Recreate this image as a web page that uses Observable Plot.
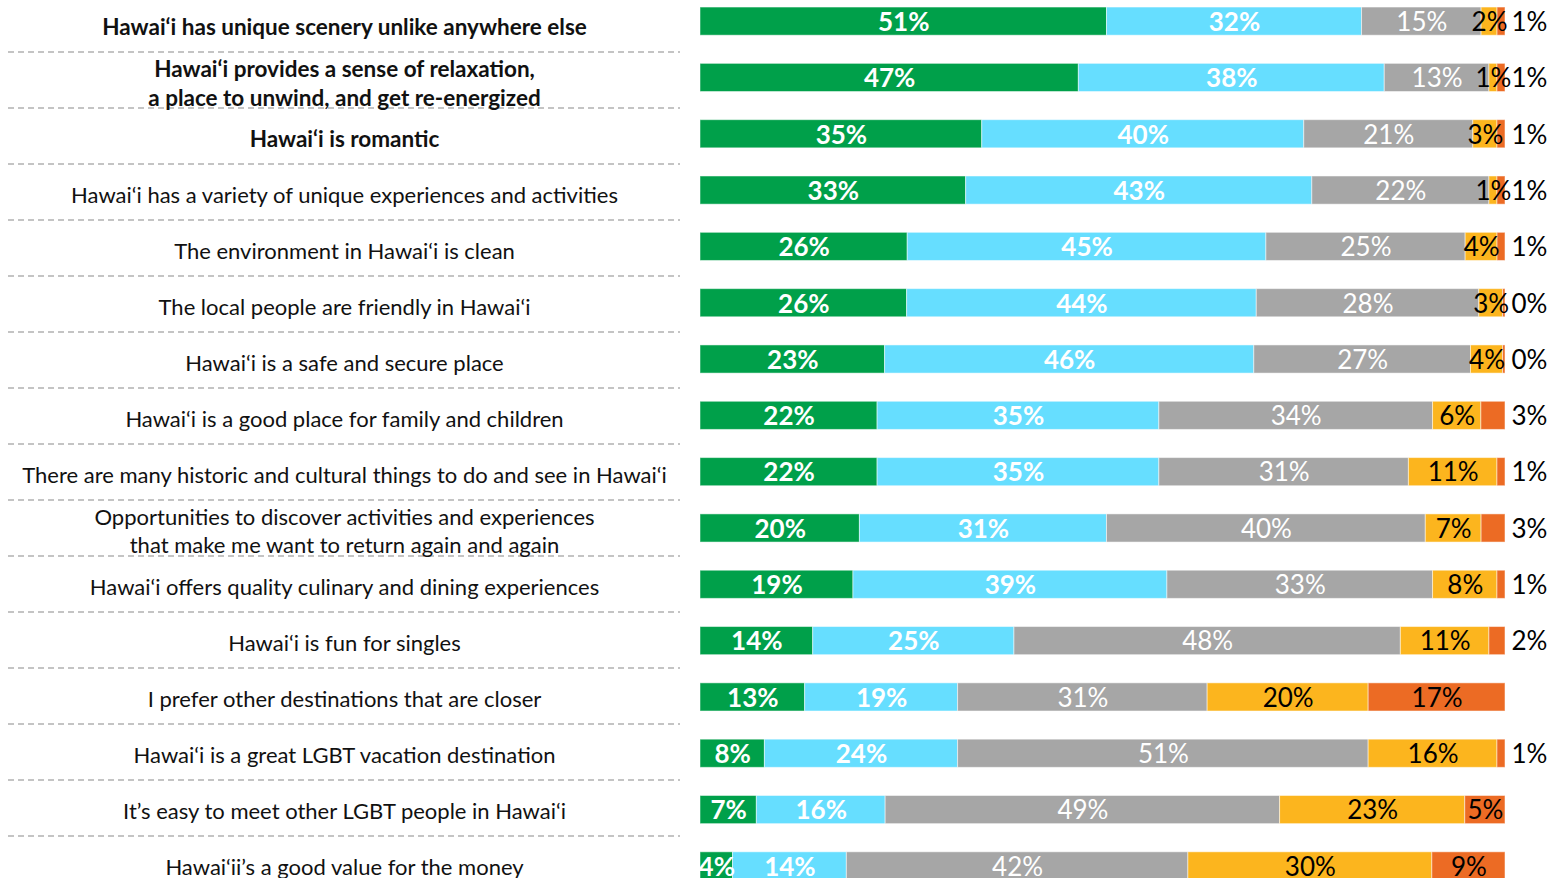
<!DOCTYPE html>
<html>
<head>
<meta charset="utf-8">
<script src="https://cdn.jsdelivr.net/npm/d3@7"></script>
<script src="https://cdn.jsdelivr.net/npm/@observablehq/plot@0.6"></script>
<style>
  html, body { margin: 0; padding: 0; background: #fff; overflow: hidden; }
  #wrap { position: relative; width: 1561px; height: 895px; }
</style>
</head>
<body>
<div id="wrap"></div>
<script>
const items = [
  "Hawai‘i has unique scenery unlike anywhere else",
  "Hawai‘i provides a sense of relaxation,\na place to unwind, and get re-energized",
  "Hawai‘i is romantic",
  "Hawai‘i has a variety of unique experiences and activities",
  "The environment in Hawai‘i is clean",
  "The local people are friendly in Hawai‘i",
  "Hawai‘i is a safe and secure place",
  "Hawai‘i is a good place for family and children",
  "There are many historic and cultural things to do and see in Hawai‘i",
  "Opportunities to discover activities and experiences\nthat make me want to return again and again",
  "Hawai‘i offers quality culinary and dining experiences",
  "Hawai‘i is fun for singles",
  "I prefer other destinations that are closer",
  "Hawai‘i is a great LGBT vacation destination",
  "It’s easy to meet other LGBT people in Hawai‘i",
  "Hawai‘ii’s a good value for the money"
];
const boldItems = items.slice(0, 3);

const series = ["s1", "s2", "s3", "s4", "s5"];
const seriesColors = ["#00A04A", "#66DEFF", "#A6A6A6", "#FCB51E", "#EC6B24"];

const s1 = [51, 47, 35, 33, 26, 26, 23, 22, 22, 20, 19, 14, 13, 8, 7, 4];
const s2 = [32, 38, 40, 43, 45, 44, 46, 35, 35, 31, 39, 25, 19, 24, 16, 14];
const s3 = [15, 13, 21, 22, 25, 28, 27, 34, 31, 40, 33, 48, 31, 51, 49, 42];
const s4 = [2, 1, 3, 1, 4, 3, 4, 6, 11, 7, 8, 11, 20, 16, 23, 30];
const s5 = [1, 1, 1, 1, 1, 0.3, 0.3, 3, 1, 3, 1, 2, 17, 1, 5, 9];
const seriesValues = [s1, s2, s3, s4, s5];

const data = [];
items.forEach((item, i) => {
  series.forEach((s, j) => {
    data.push({item, series: s, value: seriesValues[j][i], label: Math.round(seriesValues[j][i]) + "%"});
  });
});

const font = "Lato, 'Open Sans', sans-serif";

// Left: labels + dashed separators
const left = Plot.plot({
  width: 700, height: 895,
  marginLeft: 8, marginRight: 20, marginTop: 0, marginBottom: 3,
  x: {axis: null, domain: [0, 1]},
  y: {type: "point", domain: items, padding: 0.464, round: false, axis: null},
  style: {fontFamily: font},
  marks: [
    Plot.ruleY(items.slice(0, -1), {y: d => d, dy: 25.5, stroke: "#C4C4C4", strokeWidth: 2, strokeDasharray: "6,4"}),
    Plot.text(items, {y: d => d, text: d => boldItems.includes(d) ? null : d, frameAnchor: "middle", dy: -0.5,
      fontSize: 22, lineHeight: 1.3, fill: "#111", fontWeight: "normal"}),
    Plot.text(items, {y: d => d, text: d => boldItems.includes(d) ? d : null, frameAnchor: "middle", dy: -0.5,
      fontSize: 22.5, lineHeight: 1.28, fill: "#111", fontWeight: "bold"})
  ]
});

const stackOpts = (extra) => ({x: "value", y: "item", z: "series", offset: "normalize", ...extra});
const isBold = s => s === "s1" || s === "s2";
const insideText = d => (d.series !== "s5" || d.value >= 5);

const right = Plot.plot({
  width: 861, height: 890,
  marginLeft: 0, marginRight: 56, marginTop: 0, marginBottom: 3,
  x: {axis: null, domain: [0, 1]},
  y: {domain: items, paddingInner: 0.5, paddingOuter: 0.125, round: false, axis: null},
  color: {domain: series, range: seriesColors},
  style: {fontFamily: font, overflow: "visible"},
  marks: [
    Plot.barX(data, Plot.stackX(stackOpts({fill: "series", stroke: "white", strokeOpacity: 0.5, strokeWidth: 1}))),
    Plot.text(data, Plot.stackX(stackOpts({
      text: d => isBold(d.series) ? d.label : null,
      fill: "white", fontWeight: "bold", fontSize: 26, dy: 1
    }))),
    Plot.text(data, Plot.stackX(stackOpts({
      text: d => (!isBold(d.series) && insideText(d)) ? d.label : null,
      fill: d => d.series === "s3" ? "white" : "black",
      fontWeight: "normal", fontSize: 26, dy: 1
    }))),
    Plot.text(data, Plot.stackX2(stackOpts({
      text: d => (d.series === "s5" && d.value < 5) ? d.label : null,
      fill: "black", fontWeight: "normal", fontSize: 26, dy: 1, dx: 6, textAnchor: "start"
    })))
  ]
});

function place(svg, x, w, h) {
  svg.style.position = "absolute";
  svg.style.left = x + "px";
  svg.style.top = "0px";
  svg.style.width = w + "px";
  svg.style.height = h + "px";
  svg.style.maxWidth = "none";
  document.getElementById("wrap").append(svg);
}
place(left, 0, 700, 895);
place(right, 700, 861, 890);
</script>
</body>
</html>
